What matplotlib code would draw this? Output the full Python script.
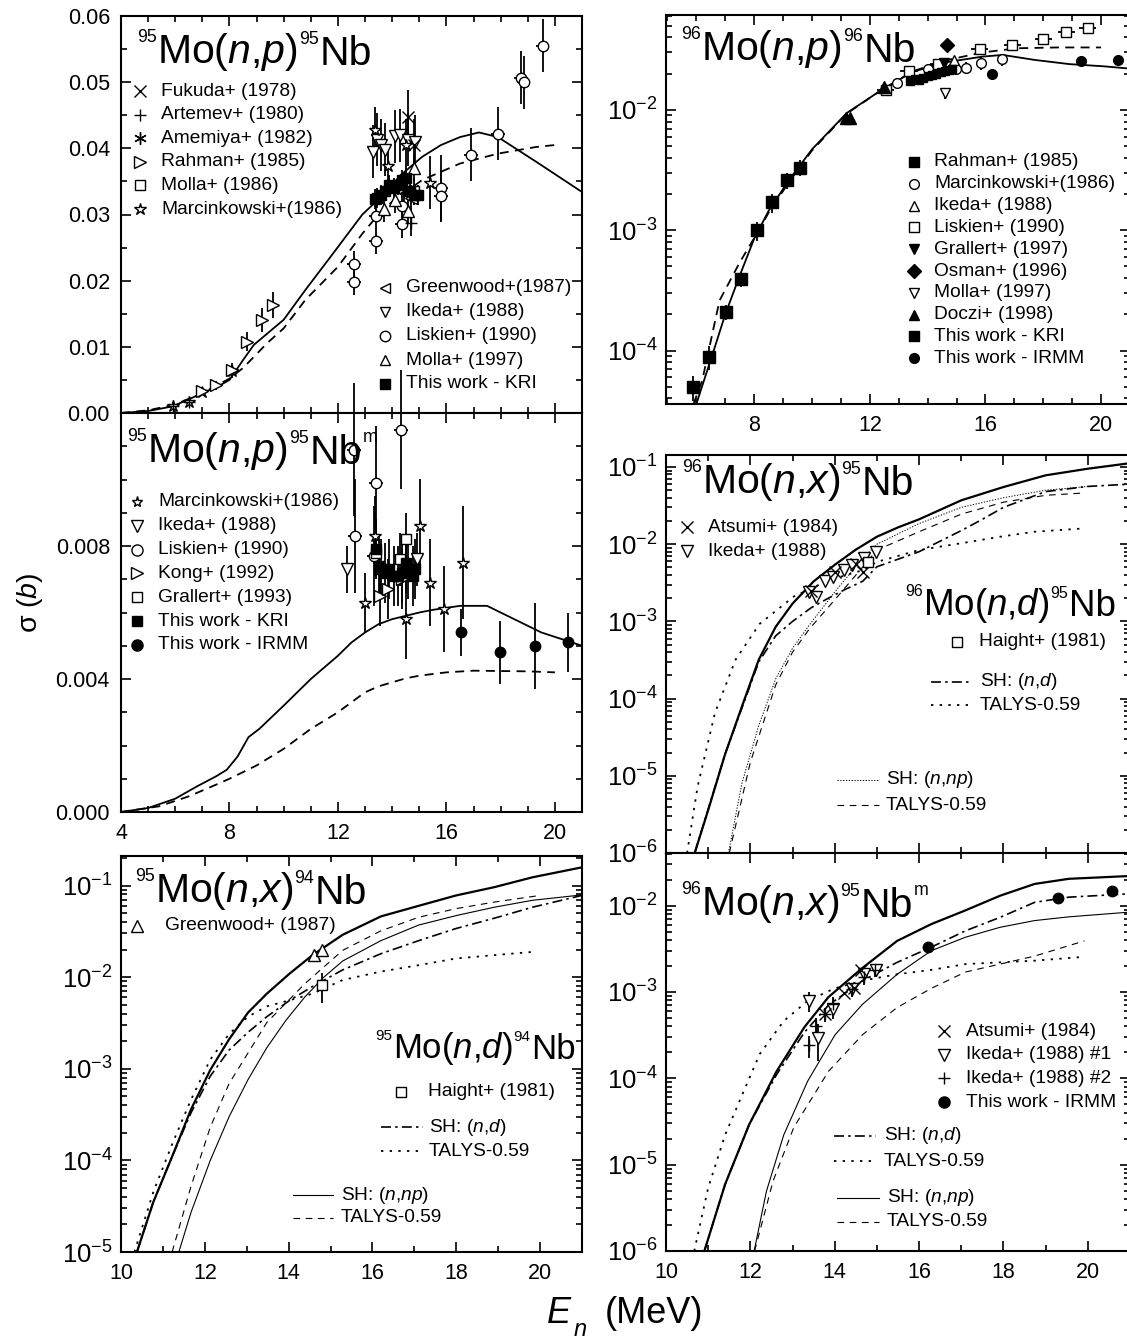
import matplotlib
matplotlib.use("Agg")
import matplotlib.pyplot as plt
from matplotlib.lines import Line2D
from matplotlib.ticker import MultipleLocator, FixedLocator, FormatStrFormatter, LogLocator, NullFormatter

W, H = 1127, 1341

plt.rcParams['font.family'] = ['Liberation Sans', 'DejaVu Sans']
plt.rcParams['mathtext.fontset'] = 'custom'
plt.rcParams['mathtext.rm'] = 'Liberation Sans'
plt.rcParams['mathtext.it'] = 'Liberation Sans:italic'
plt.rcParams['mathtext.bf'] = 'Liberation Sans:bold'
plt.rcParams['axes.unicode_minus'] = False

# ---------------- 95Mo(n,p)95Nb ----------------
tl_sh_e = [4, 5, 5.9, 6.9, 7.7, 8.0, 8.5, 8.9, 10.0, 10.8, 11.8, 12.9, 13.6, 14.3, 15.1, 15.8, 16.5, 17.2, 17.9,
           19.3, 21]
tl_sh_s = [0, 0.0003, 0.001, 0.0028, 0.0043, 0.005, 0.008, 0.0103, 0.0141, 0.0186, 0.024, 0.030, 0.0327,
           0.0359, 0.0387, 0.0405, 0.0417, 0.0424, 0.0417, 0.038, 0.0334]
tl_ta_e = [4, 5, 6, 7, 8, 8.5, 9.4, 10.0, 10.8, 12.0, 12.9, 13.7, 15.1, 16.5, 17.9, 19.3, 20]
tl_ta_s = [0, 0.0004, 0.0013, 0.003, 0.0052, 0.0068, 0.0106, 0.0128, 0.0171, 0.0221, 0.0271, 0.031,
           0.0352, 0.0377, 0.0392, 0.0402, 0.0405]

tl_fukuda = ([14.6, 14.8], [0.0448, 0.0405], [0.004, 0.004])
tl_artemev = ([5.9, 6.5, 14.7], [0.0011, 0.0017, 0.0287], [0.0005, 0.0005, 0.002])
tl_amemiya = ([14.45], [0.0335], [0.002])
tl_rahman = ([7.0, 7.5, 8.1, 8.65, 9.2, 9.6], [0.0034, 0.0042, 0.0065, 0.0108, 0.014, 0.0163],
             [0.0005, 0.0007, 0.001, 0.0015, 0.0018, 0.002])
tl_molla86 = ([14.8], [0.0335], [0.002])
tl_marcin = ([5.9, 6.5, 7.0, 8.1, 13.35, 13.85, 14.5, 15.4], [0.001, 0.0016, 0.0032, 0.0063, 0.0427, 0.0374, 0.0405, 0.0348],
             [0.0005, 0.0005, 0.0005, 0.001, 0.0035, 0.003, 0.004, 0.004])
tl_greenwood = ([14.7], [0.0325], [0.002])
tl_ikeda = ([13.3, 13.45, 13.6, 13.75, 14.1, 14.3, 14.6, 14.85], [0.0395, 0.0413, 0.0405, 0.0398, 0.0418, 0.042, 0.0413, 0.041],
            [0.004, 0.004, 0.004, 0.004, 0.004, 0.004, 0.004, 0.004])
tl_liskien = ([12.6, 12.6, 13.4, 13.4, 14.35, 14.35, 15.8, 15.8, 16.9, 17.9, 18.75, 18.85, 19.55],
              [0.0225, 0.0198, 0.026, 0.0298, 0.0285, 0.0313, 0.034, 0.0328, 0.039, 0.0422, 0.0507, 0.050, 0.0555],
              [0.002, 0.002, 0.002, 0.002, 0.002, 0.002, 0.005, 0.004, 0.004, 0.004, 0.004, 0.004, 0.004])
tl_molla97 = ([13.7, 14.1, 14.6, 14.8], [0.0308, 0.0322, 0.0305, 0.037], [0.002, 0.002, 0.002, 0.002])
tl_kri = ([13.35, 13.45, 13.6, 13.75, 13.9, 14.05, 14.2, 14.35, 14.5, 14.65, 14.8, 14.95],
          [0.0323, 0.0325, 0.033, 0.0335, 0.0345, 0.034, 0.0345, 0.0352, 0.0355, 0.0335, 0.033, 0.033],
          [0.0015] * 12)

# ---------------- 95Mo(n,p)95Nbm ----------------
ml_sh_e = [4, 5, 6, 6.8, 7.5, 7.9, 8.3, 8.7, 9.1, 10, 11, 12, 12.5, 13, 13.5, 14, 14.5, 15, 15.5, 16, 16.5, 17,
           17.5, 18.5, 19.5, 21]
ml_sh_s = [0, 0.00012, 0.0004, 0.00077, 0.00107, 0.00127, 0.00167, 0.00225, 0.0025, 0.0032, 0.004, 0.0047,
           0.0051, 0.0054, 0.00565, 0.0058, 0.0059, 0.006, 0.00608, 0.00614, 0.0062, 0.0062, 0.0062, 0.0058,
           0.0054, 0.005]
ml_ta_e = [4, 5.4, 6.5, 7.5, 8, 9, 10, 11, 12, 12.5, 13, 13.5, 14, 14.5, 15, 16, 17, 18, 19, 20]
ml_ta_s = [0, 0.00017, 0.00047, 0.00082, 0.001, 0.0014, 0.0019, 0.0025, 0.003, 0.0033, 0.0036, 0.00378,
           0.0039, 0.00402, 0.0041, 0.0042, 0.00425, 0.00424, 0.00423, 0.0042]

ml_marcin = ([12.99, 13.35, 14.52, 15.01, 15.41, 15.9, 16.6], [0.0063, 0.0083, 0.0058, 0.0086, 0.0069, 0.0061, 0.0075],
             [0.0009, 0.0012, 0.0012, 0.0014, 0.0013, 0.0013, 0.0017])
ml_ikeda = ([12.35, 14.9], [0.0073, 0.0076], [0.0007, 0.0008])
ml_liskien = ([12.6, 12.63, 13.41, 13.34, 14.32], [0.0109, 0.0083, 0.0099, 0.0077, 0.0115], [0.002, 0.0017, 0.0017, 0.0015, 0.0018])
ml_kong = ([13.55, 13.86, 14.35], [0.0065, 0.0067, 0.007], [0.0009, 0.0009, 0.0009])
ml_grallert = ([13.4, 14.3, 14.5], [0.0078, 0.0076, 0.0082], [0.0008, 0.0008, 0.0008])
ml_kri = ([13.4, 13.5, 13.6, 13.75, 13.9, 14.05, 14.2, 14.35, 14.5, 14.6, 14.75, 14.85],
          [0.0079, 0.0074, 0.0073, 0.0072, 0.0073, 0.0071, 0.0071, 0.0072, 0.0075, 0.0073, 0.0071, 0.0073],
          [0.0009] * 12)
ml_irmm = ([16.54, 17.99, 19.25, 20.5], [0.0054, 0.0048, 0.005, 0.0051], [0.0007, 0.00095, 0.0013, 0.0009])

# ---------------- 95Mo(n,x)94Nb ----------------
bl_tot_e = [10.38, 10.77, 11.22, 11.67, 12.13, 12.58, 13.03, 13.48, 14.03, 14.57, 15.29, 16.2, 17.1, 18.0, 18.91, 19.82, 21]
bl_tot_s = [1e-5, 3.5e-5, 1.1e-4, 3.6e-4, 9.7e-4, 2.1e-3, 4.1e-3, 6.6e-3, 1.1e-2, 1.74e-2, 2.9e-2, 4.6e-2,
            6.0e-2, 7.8e-2, 9.6e-2, 0.123, 0.158]
bl_shd_e = [10.38, 10.77, 11.22, 11.67, 12.13, 12.58, 13.03, 13.48, 14.03, 14.57, 15.29, 16.2, 17.1, 18.0, 18.91, 19.82, 21]
bl_shd_s = [1e-5, 3.5e-5, 1.1e-4, 3.3e-4, 8.3e-4, 1.6e-3, 2.5e-3, 3.7e-3, 5.6e-3, 7.9e-3, 1.2e-2, 1.8e-2,
            2.5e-2, 3.4e-2, 4.4e-2, 5.8e-2, 7.8e-2]
bl_tad_e = [10.32, 10.77, 11.22, 11.67, 12.13, 12.58, 13.03, 13.48, 14.03, 14.57, 15.29, 16.2, 17.1, 18.0, 18.91, 19.91]
bl_tad_s = [1e-5, 4.5e-5, 1.5e-4, 4.6e-4, 1.26e-3, 2.4e-3, 3.7e-3, 4.8e-3, 5.6e-3, 6.6e-3, 9.3e-3, 1.15e-2,
            1.35e-2, 1.6e-2, 1.74e-2, 1.9e-2]
bl_shnp_e = [11.38, 11.67, 12.13, 12.58, 13.03, 13.48, 13.94, 14.39, 14.84, 15.29, 16.2, 17.1, 18.0, 18.91, 19.82, 21]
bl_shnp_s = [1e-5, 2.7e-5, 1.0e-4, 3.0e-4, 7.6e-4, 1.7e-3, 3.4e-3, 6.1e-3, 1.0e-2, 1.5e-2, 2.5e-2, 3.7e-2,
             4.7e-2, 5.8e-2, 6.9e-2, 7.9e-2]
bl_tanp_e = [11.22, 11.67, 12.13, 12.58, 13.48, 14.39, 15.29, 16.2, 17.1, 18.0, 18.91, 20.0]
bl_tanp_s = [1e-5, 5.2e-5, 2.3e-4, 6.9e-4, 3.2e-3, 8.5e-3, 1.96e-2, 3.2e-2, 4.5e-2, 5.6e-2, 6.6e-2, 7.8e-2]

bl_greenwood = ([14.6, 14.8], [1.74e-2, 1.96e-2])
bl_haight = ([14.8], [8.3e-3], [[3.1e-3], [2.7e-3]])

# ---------------- 96Mo(n,p)96Nb ----------------
tr_sh_e = [6.0, 6.6, 7.0, 7.5, 8.0, 8.5, 9.2, 10.0, 11.2, 12.4, 13.5, 14.7, 15.9, 16.6, 17.7, 18.9, 20.1, 21]
tr_sh_s = [3.6e-5, 1.0e-4, 2.0e-4, 4.2e-4, 8.5e-4, 1.45e-3, 2.6e-3, 4.7e-3, 9.4e-3, 1.46e-2, 2.08e-2, 2.5e-2,
           2.77e-2, 2.86e-2, 2.6e-2, 2.4e-2, 2.3e-2, 2.2e-2]
tr_ta_e = [5.9, 6.2, 6.8, 7.5, 8.0, 8.5, 9.2, 10.0, 11.2, 12.4, 13.5, 14.7, 15.9, 17.1, 18.5, 20.0]
tr_ta_s = [3.6e-5, 5.6e-5, 2.6e-4, 5.4e-4, 8.6e-4, 1.4e-3, 2.5e-3, 4.6e-3, 9.3e-3, 1.46e-2, 2.1e-2, 2.6e-2,
           3.0e-2, 3.25e-2, 3.3e-2, 3.3e-2]

tr_rahman = ([5.89, 6.45, 7.01, 7.53, 8.1, 8.62, 9.13, 9.57], [5e-5, 8.9e-5, 2.1e-4, 3.9e-4, 1.0e-3, 1.7e-3, 2.6e-3, 3.3e-3],
             [1.2e-5, 2e-5, 3e-5, 5e-5, 1.8e-4, 3e-4, 4e-4, 5e-4])
tr_marcin = ([12.95, 14.0, 14.97, 15.32, 15.86, 16.57], [1.67e-2, 2.2e-2, 2.2e-2, 2.24e-2, 2.44e-2, 2.63e-2],
             [1.5e-3, 2e-3, 2e-3, 2.5e-3, 3e-3, 3e-3])
tr_ikeda = ([14.9], [2.6e-2])
tr_liskien = ([12.55, 13.36, 14.37, 15.8, 16.93, 18.0, 18.8, 19.54], [1.47e-2, 2.12e-2, 2.4e-2, 3.2e-2, 3.46e-2, 3.9e-2, 4.4e-2, 4.8e-2])
tr_grallert = ([14.55], [2.45e-2])
tr_osman = ([14.67], [3.45e-2])
tr_molla = ([14.61], [1.37e-2], [1.5e-3])
tr_doczi = ([11.17, 11.32, 12.5], [8.5e-3, 8.5e-3, 1.56e-2])
tr_kri = ([13.4, 13.55, 13.7, 13.85, 14.0, 14.15, 14.3, 14.45, 14.6, 14.75, 14.85],
          [1.75e-2, 1.8e-2, 1.78e-2, 1.85e-2, 1.9e-2, 1.95e-2, 2.0e-2, 2.05e-2, 2.1e-2, 2.15e-2, 2.2e-2])
tr_irmm = ([16.21, 19.3, 20.6], [2.0e-2, 2.57e-2, 2.58e-2])

# ---------------- 96Mo(n,x)95Nb ----------------
mr_tot_e = [10.68, 11.0, 11.4, 11.8, 12.2, 12.6, 13.0, 13.5, 14.0, 14.5, 15.0, 15.5, 16.0, 17.0, 18.0, 19.0, 20.0, 21.0]
mr_tot_s = [1e-6, 3.6e-6, 1.9e-5, 7.9e-5, 3.2e-4, 8.5e-4, 1.7e-3, 3.3e-3, 5.4e-3, 8.5e-3, 1.25e-2, 1.65e-2,
            2.1e-2, 3.7e-2, 5.5e-2, 7.8e-2, 9.5e-2, 0.112]
mr_shd_e = [10.68, 11.4, 12.2, 12.6, 13.0, 13.44, 13.85, 14.25, 14.66, 15.0, 16.0, 17.0, 17.5, 18.0, 19.0, 20.0, 21]
mr_shd_s = [1e-6, 1.9e-5, 3.0e-4, 6.5e-4, 1.0e-3, 1.5e-3, 2.0e-3, 2.6e-3, 3.3e-3, 5.1e-3, 8.0e-3, 1.5e-2,
            2.1e-2, 3.0e-2, 4.8e-2, 5.6e-2, 6.0e-2]
mr_tad_e = [10.5, 10.75, 11.16, 11.65, 12.22, 13.03, 13.85, 14.66, 15.0, 16.0, 17.1, 17.92, 18.74, 19.9]
mr_tad_s = [1e-6, 7.3e-6, 6.5e-5, 3.2e-4, 9.3e-4, 2.1e-3, 3.4e-3, 4.6e-3, 5.9e-3, 8.4e-3, 1.05e-2, 1.25e-2,
            1.45e-2, 1.6e-2]
mr_shnp_e = [11.48, 11.8, 12.2, 12.6, 13.0, 13.4, 14.0, 14.6, 15.0, 16.0, 17.0, 18.0, 19.0, 20.0]
mr_shnp_s = [1e-6, 8e-6, 4.5e-5, 1.8e-4, 4.5e-4, 9e-4, 2.4e-3, 6e-3, 1.0e-2, 1.85e-2, 3.0e-2, 4.0e-2, 5.0e-2, 5.6e-2]
mr_tanp_e = [11.5, 12.0, 12.6, 13.0, 13.4, 14.0, 14.6, 15.0, 16.0, 17.0, 18.0, 19.0, 19.9]
mr_tanp_s = [1e-6, 1.5e-5, 1.5e-4, 4e-4, 8e-4, 1.9e-3, 4.6e-3, 8.4e-3, 1.45e-2, 2.45e-2, 3.5e-2, 4.3e-2, 4.6e-2]

mr_ikeda = ([13.4, 13.56, 13.77, 13.97, 14.21, 14.42, 14.7, 14.97], [2.4e-3, 2.1e-3, 3.3e-3, 3.8e-3, 4.6e-3, 5.3e-3, 6.7e-3, 8.0e-3])
mr_atsumi = ([13.44, 14.0, 14.5, 14.66], [2.5e-3, 4.4e-3, 5.5e-3, 4.4e-3])
mr_haight = ([14.78], [5.9e-3])

# ---------------- 96Mo(n,x)95Nbm ----------------
br_tot_e = [10.91, 11.4, 11.97, 12.62, 13.28, 13.85, 14.66, 15.48, 16.29, 17.1, 17.92, 18.74, 19.55, 21]
br_tot_s = [1e-6, 5.9e-6, 2.9e-5, 1.2e-4, 3.9e-4, 8.7e-4, 1.9e-3, 3.9e-3, 6.1e-3, 8.8e-3, 1.3e-2, 1.78e-2,
            2.04e-2, 2.2e-2]
br_shd_e = [10.91, 11.4, 11.97, 12.62, 13.28, 13.85, 14.66, 15.48, 16.29, 17.1, 17.92, 18.74, 19.55, 21]
br_shd_s = [1e-6, 5.9e-6, 2.9e-5, 1.1e-4, 3.4e-4, 7.0e-4, 1.35e-3, 2.2e-3, 3.3e-3, 5.1e-3, 7.3e-3, 1.09e-2,
            1.25e-2, 1.37e-2]
br_tad_e = [10.67, 11.0, 11.4, 11.81, 12.22, 12.79, 13.36, 14.0, 14.66, 15.48, 16.29, 17.1, 17.92, 18.74, 19.92]
br_tad_s = [1e-6, 5.4e-6, 2.2e-5, 6.5e-5, 1.9e-4, 4.6e-4, 7.9e-4, 1.1e-3, 1.35e-3, 1.6e-3, 1.8e-3, 2.1e-3,
            2.2e-3, 2.3e-3, 2.55e-3]
br_shnp_e = [12.09, 12.38, 12.79, 13.36, 14.01, 14.66, 15.48, 16.29, 17.1, 17.92, 18.74, 19.55, 21]
br_shnp_s = [1e-6, 4.9e-6, 2.2e-5, 9.3e-5, 3.2e-4, 7.2e-4, 1.6e-3, 3.0e-3, 4.3e-3, 5.6e-3, 6.7e-3, 7.4e-3, 8.4e-3]
br_tanp_e = [12.1, 12.54, 13.03, 13.85, 14.66, 15.48, 16.29, 17.1, 17.92, 18.74, 19.92]
br_tanp_s = [1e-6, 6.5e-6, 2.7e-5, 1.2e-4, 3.2e-4, 6.6e-4, 1.1e-3, 1.7e-3, 2.1e-3, 2.6e-3, 3.9e-3]

br_atsumi = ([13.77, 14.21, 14.46, 14.62], [5.5e-4, 9.6e-4, 1.1e-3, 1.8e-3])
br_ikeda1 = ([13.4, 13.6, 13.97, 14.42, 14.7, 14.99], [7.9e-4, 2.9e-4, 6.3e-4, 1.07e-3, 1.6e-3, 1.8e-3],
             [2e-4, 1.3e-4, 1.5e-4, 2e-4, 3e-4, 3e-4])
br_ikeda2 = ([13.4, 13.56, 13.77, 13.97, 14.42, 14.7, 14.95], [2.4e-4, 4.0e-4, 5.5e-4, 7.2e-4, 1.07e-3, 1.5e-3, 1.8e-3],
             [7e-5, 1e-4, 1e-4, 1.5e-4, 2e-4, 3e-4, 3e-4])
br_irmm = ([16.21, 19.29, 20.57], [3.3e-3, 1.23e-2, 1.47e-2])

# ---------------------------------------------------------------------------
STY = {
    'thick': dict(lw=1.6),
    'solid': dict(lw=1.3),
    'thin': dict(lw=0.8),
    'dash': dict(lw=1.3, dashes=(5, 3.5)),
    'thindash': dict(lw=0.8, dashes=(6, 5)),
    'dashdot': dict(lw=1.2, dashes=(6, 2.5, 1.5, 2.5)),
    'dot': dict(lw=1.3, dashes=(1.3, 3.5)),
    'fine': dict(lw=0.7, dashes=(1.3, 1.6)),
}
KEYFS = 13.8

fig = plt.figure(figsize=(W / 100, H / 100), dpi=100)


def box(x0, y0, x1, y1):
    return fig.add_axes([x0 / W, 1 - y1 / H, (x1 - x0) / W, (y1 - y0) / H])


def frame(ax, log=False):
    for sp in ax.spines.values():
        sp.set_linewidth(1.5)
    ax.tick_params(which='both', direction='in', top=True, right=True, width=1.2, pad=8)
    ax.tick_params(which='major', length=7, labelsize=15.5)
    ax.tick_params(which='minor', length=4)
    if log:
        ax.set_yscale('log')
        ax.yaxis.set_major_locator(LogLocator(base=10, numticks=20))
        ax.yaxis.set_minor_locator(LogLocator(base=10, subs=range(2, 10), numticks=20))
        ax.yaxis.set_minor_formatter(NullFormatter())
        ax.tick_params(axis='y', which='major', labelsize=18.5, pad=6)


def curve(ax, e, s, style):
    ax.plot(e, s, color='k', solid_capstyle='butt', **STY[style])


def pts(ax, data, marker, xerr=None, ms=7, filled=False, clip=True, mew=1.0):
    e, s = data[0], data[1]
    err = data[2] if len(data) > 2 else None
    if err is not None or xerr is not None:
        c = ax.errorbar(e, s, yerr=err, xerr=xerr, fmt='none', ecolor='k', elinewidth=1.3, capsize=0, zorder=2)
        for lc in c.lines[2]:
            lc.set_clip_on(clip)
    ax.plot(e, s, ls='none', marker=marker, ms=ms, mfc='k' if filled else 'white', mec='k', mew=mew,
            zorder=3, clip_on=clip)


def key(x, y, label, marker=None, filled=False, ms=7, xt=None, line=None, x1=None, fs=KEYFS):
    fy = 1 - y / H
    if marker is not None:
        fig.add_artist(Line2D([x / W], [fy], ls='none', marker=marker, ms=ms, mfc='k' if filled else 'white',
                              mec='k', mew=1.0))
    if line is not None:
        fig.add_artist(Line2D([x / W, x1 / W], [fy, fy], color='k', **STY[line]))
    fig.text(xt / W, fy, label, fontsize=fs, va='center', ha='left')


DESC = 0.212


def rich(ax, x, y, parts):
    prev = None
    for s, size, rise in parts:
        kw = dict(fontsize=size, va='baseline', ha='left', textcoords='offset points', annotation_clip=False)
        if prev is None:
            t = ax.annotate(s, xy=(x, H - y), xycoords='figure pixels', xytext=(0, rise), **kw)
        else:
            t = ax.annotate(s, xy=(1, 0), xycoords=prev, xytext=(0.5, DESC * psize - prise + rise), **kw)
        prev, psize, prise = t, size, rise


def title(ax, x, y, a, mid, b, extra=None, big=29.5, small=12.8, rise=15):
    parts = [(a, small, rise), (mid, big, 0), (b, small, rise), ('Nb', big, 0)]
    if extra:
        parts.append((extra, small, rise))
    rich(ax, x, y, parts)


ASTER = (6, 2, 0)

# ---------------- top left ----------------
ax = box(121, 16, 582, 413)
frame(ax)
ax.set_xlim(4, 21)
ax.set_ylim(0, 0.06)
ax.xaxis.set_major_locator(MultipleLocator(4))
ax.xaxis.set_minor_locator(MultipleLocator(1))
ax.yaxis.set_major_locator(MultipleLocator(0.01))
ax.yaxis.set_minor_locator(MultipleLocator(0.005))
ax.yaxis.set_major_formatter(FormatStrFormatter('%.2f'))
ax.tick_params(labelbottom=False)
curve(ax, tl_sh_e, tl_sh_s, 'solid')
curve(ax, tl_ta_e, tl_ta_s, 'dash')
pts(ax, tl_liskien, 'o', xerr=0.25, ms=7.5)
pts(ax, tl_ikeda, 'v', ms=8)
pts(ax, tl_molla97, '^', ms=8)
pts(ax, tl_marcin, '*', ms=9)
pts(ax, tl_rahman, '>', ms=8)
pts(ax, tl_fukuda, 'x', ms=8)
pts(ax, tl_artemev, '+', ms=8)
pts(ax, tl_amemiya, ASTER, ms=8)
pts(ax, tl_molla86, 's', ms=6.5)
pts(ax, tl_greenwood, '<', ms=8)
pts(ax, tl_kri, 's', ms=6.5, filled=True)
title(ax, 137, 63, '95', 'Mo($n$,$p$)', '95')
for i, (lab, m, ms) in enumerate([('Fukuda+ (1978)', 'x', 9), ('Artemev+ (1980)', '+', 9),
                                  ('Amemiya+ (1982)', ASTER, 9), ('Rahman+ (1985)', '>', 8),
                                  ('Molla+ (1986)', 's', 7), ('Marcinkowski+(1986)', '*', 9)]):
    key(140, 91 + 23.6 * i, lab, m, ms=ms, xt=161)
for i, (lab, m, f) in enumerate([('Greenwood+(1987)', '<', False), ('Ikeda+ (1988)', 'v', False),
                                 ('Liskien+ (1990)', 'o', False), ('Molla+ (1997)', '^', False),
                                 ('This work - KRI', 's', True)]):
    key(385, 288 + 24 * i, lab, m, filled=f, ms=7.5, xt=406)

# ---------------- middle left ----------------
ax = box(121, 413, 582, 812)
frame(ax)
ax.set_xlim(4, 21)
ax.set_ylim(0, 0.012)
ax.xaxis.set_major_locator(MultipleLocator(4))
ax.xaxis.set_minor_locator(MultipleLocator(1))
ax.yaxis.set_major_locator(FixedLocator([0, 0.004, 0.008]))
ax.yaxis.set_minor_locator(MultipleLocator(0.001))
ax.yaxis.set_major_formatter(FormatStrFormatter('%.3f'))
curve(ax, ml_sh_e, ml_sh_s, 'solid')
curve(ax, ml_ta_e, ml_ta_s, 'dash')
pts(ax, ml_liskien, 'o', xerr=0.25, ms=7.5, clip=False)
pts(ax, ml_marcin, '*', ms=9)
pts(ax, ml_ikeda, 'v', ms=8)
pts(ax, ml_kong, '>', ms=8)
pts(ax, ml_grallert, 's', ms=6.5)
pts(ax, ml_kri, 's', ms=6.5, filled=True)
pts(ax, ml_irmm, 'o', ms=7.5, filled=True)
title(ax, 127, 462, '95', 'Mo($n$,$p$)', '95', extra='m')
for i, (lab, m, f) in enumerate([('Marcinkowski+(1986)', '*', False), ('Ikeda+ (1988)', 'v', False),
                                 ('Liskien+ (1990)', 'o', False), ('Kong+ (1992)', '>', False),
                                 ('Grallert+ (1993)', 's', False), ('This work - KRI', 's', True),
                                 ('This work - IRMM', 'o', True)]):
    key(136.5, 502 + 23.8 * i, lab, m, filled=f, ms=8 if m != 's' else 7, xt=158)

# ---------------- bottom left ----------------
ax = box(121, 856, 582, 1252)
frame(ax, log=True)
ax.set_xlim(10, 21)
ax.set_ylim(1e-5, 0.21)
ax.xaxis.set_major_locator(MultipleLocator(2))
ax.xaxis.set_minor_locator(MultipleLocator(1))
curve(ax, bl_tot_e, bl_tot_s, 'thick')
curve(ax, bl_shd_e, bl_shd_s, 'dashdot')
curve(ax, bl_tad_e, bl_tad_s, 'dot')
curve(ax, bl_shnp_e, bl_shnp_s, 'thin')
curve(ax, bl_tanp_e, bl_tanp_s, 'thindash')
pts(ax, bl_greenwood, '^', ms=8)
pts(ax, bl_haight, 's', ms=7)
title(ax, 135, 902, '95', 'Mo($n$,$x$)', '94')
title(ax, 375, 1058, '95', 'Mo($n$,$d$)', '94', big=25, small=11, rise=13)
key(137, 926, 'Greenwood+ (1987)', '^', ms=8, xt=165)
key(401, 1092, 'Haight+ (1981)', 's', ms=7, xt=428)
key(381, 1127, 'SH: ($n$,$d$)', line='dashdot', x1=423, xt=429)
key(381, 1151, 'TALYS-0.59', line='dot', x1=423, xt=429)
key(293, 1195, 'SH: ($n$,$np$)', line='thin', x1=333, xt=341)
key(293, 1218, 'TALYS-0.59', line='thindash', x1=333, xt=341)

# ---------------- top right ----------------
ax = box(666, 15, 1130, 404)
frame(ax, log=True)
ax.set_xlim(4.95, 21)
ax.set_ylim(3.6e-5, 0.0614)
ax.xaxis.set_major_locator(FixedLocator([8, 12, 16, 20]))
ax.xaxis.set_minor_locator(MultipleLocator(1))
curve(ax, tr_sh_e, tr_sh_s, 'solid')
curve(ax, tr_ta_e, tr_ta_s, 'dash')
pts(ax, tr_rahman, 's', xerr=0.1, ms=8.5, filled=True)
pts(ax, tr_liskien, 's', xerr=0.3, ms=6.5)
pts(ax, tr_marcin, 'o', ms=7)
pts(ax, tr_ikeda, '^', ms=7)
pts(ax, tr_grallert, 'v', ms=7, filled=True)
pts(ax, tr_osman, 'D', ms=7, filled=True)
pts(ax, tr_molla, 'v', ms=7)
pts(ax, tr_doczi, '^', ms=8, filled=True)
pts(ax, tr_kri, 's', ms=6, filled=True)
pts(ax, tr_irmm, 'o', ms=7, filled=True)
title(ax, 681, 60, '96', 'Mo($n$,$p$)', '96')
for i, (lab, m, f) in enumerate([('Rahman+ (1985)', 's', True), ('Marcinkowski+(1986)', 'o', False),
                                 ('Ikeda+ (1988)', '^', False), ('Liskien+ (1990)', 's', False),
                                 ('Grallert+ (1997)', 'v', True), ('Osman+ (1996)', 'D', True),
                                 ('Molla+ (1997)', 'v', False), ('Doczi+ (1998)', '^', True),
                                 ('This work - KRI', 's', True), ('This work - IRMM', 'o', True)]):
    key(914, 162 + 21.8 * i, lab, m, filled=f, ms=7, xt=934)

# ---------------- middle right ----------------
ax = box(666, 455, 1130, 853)
frame(ax, log=True)
ax.set_xlim(10, 21)
ax.set_ylim(1e-6, 0.143)
ax.xaxis.set_major_locator(MultipleLocator(2))
ax.xaxis.set_minor_locator(MultipleLocator(1))
ax.tick_params(labelbottom=False)
curve(ax, mr_tot_e, mr_tot_s, 'thick')
curve(ax, mr_shd_e, mr_shd_s, 'dashdot')
curve(ax, mr_tad_e, mr_tad_s, 'dot')
curve(ax, mr_shnp_e, mr_shnp_s, 'fine')
curve(ax, mr_tanp_e, mr_tanp_s, 'thindash')
pts(ax, mr_ikeda, 'v', ms=8)
pts(ax, mr_atsumi, 'x', ms=8)
pts(ax, mr_haight, 's', ms=7)
title(ax, 682, 493, '96', 'Mo($n$,$x$)', '95')
title(ax, 905, 615, '96', 'Mo($n$,$d$)', '95', big=26.5, small=11.5, rise=13.5)
key(687, 527, 'Atsumi+ (1984)', 'x', ms=9, xt=708)
key(687, 551, 'Ikeda+ (1988)', 'v', ms=8, xt=708)
key(957, 642, 'Haight+ (1981)', 's', ms=7, xt=979)
key(931, 682, 'SH: ($n$,$d$)', line='dashdot', x1=970, xt=980)
key(931, 705, 'TALYS-0.59', line='dot', x1=970, xt=980)
key(837, 780, 'SH: ($n$,$np$)', line='fine', x1=879, xt=886)
key(837, 805, 'TALYS-0.59', line='thindash', x1=879, xt=886)

# ---------------- bottom right ----------------
ax = box(666, 853, 1130, 1251)
frame(ax, log=True)
ax.set_xlim(10, 21)
ax.set_ylim(1e-6, 0.0406)
ax.xaxis.set_major_locator(MultipleLocator(2))
ax.xaxis.set_minor_locator(MultipleLocator(1))
curve(ax, br_tot_e, br_tot_s, 'thick')
curve(ax, br_shd_e, br_shd_s, 'dashdot')
curve(ax, br_tad_e, br_tad_s, 'dot')
curve(ax, br_shnp_e, br_shnp_s, 'thin')
curve(ax, br_tanp_e, br_tanp_s, 'thindash')
pts(ax, br_ikeda1, 'v', ms=8)
pts(ax, br_ikeda2, '+', ms=9)
pts(ax, br_atsumi, 'x', ms=8)
pts(ax, br_irmm, 'o', ms=7.5, filled=True)
title(ax, 681, 915, '96', 'Mo($n$,$x$)', '95', extra='m')
for i, (lab, m, f) in enumerate([('Atsumi+ (1984)', 'x', False), ('Ikeda+ (1988) #1', 'v', False),
                                 ('Ikeda+ (1988) #2', '+', False), ('This work - IRMM', 'o', True)]):
    key(944, 1031 + 23.7 * i, lab, m, filled=f, ms=8, xt=966)
key(834, 1136, 'SH: ($n$,$d$)', line='dashdot', x1=876, xt=884)
key(834, 1161, 'TALYS-0.59', line='dot', x1=876, xt=884)
key(837, 1198, 'SH: ($n$,$np$)', line='thin', x1=879, xt=887)
key(837, 1222, 'TALYS-0.59', line='thindash', x1=879, xt=887)

# ---------------- axis titles ----------------
fig.text(30 / W, 1 - 603 / H, 'σ ($b$)', rotation=90, fontsize=20.5, ha='center', va='center')
rich(ax, 546, 1323, [('$E$', 26, 0), ('$n$', 17, -9)])
fig.text(605 / W, 1 - 1323 / H, '(MeV)', fontsize=26, ha='left', va='baseline')

fig.savefig('out.png', dpi=100)
